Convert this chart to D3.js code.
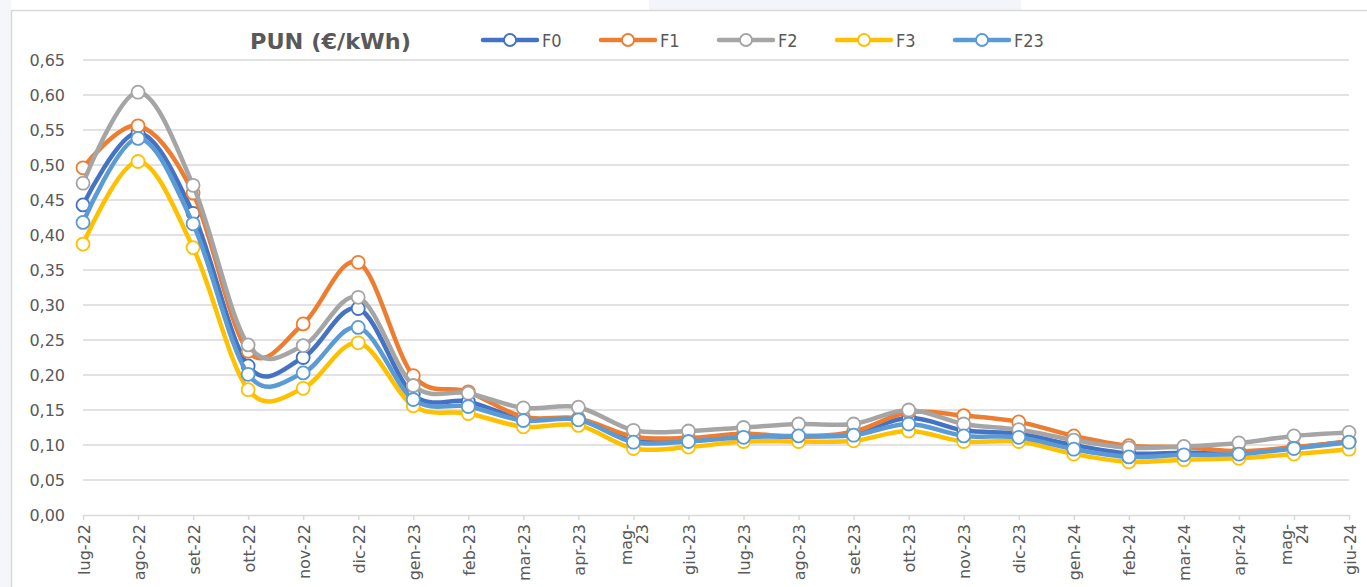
<!DOCTYPE html>
<html>
<head>
<meta charset="utf-8">
<script src="https://cdn.jsdelivr.net/npm/d3@7"></script>
<style>
  body { margin: 0; background: #ffffff; }
  svg { display: block; }
</style>
</head>
<body>
<div id="chart"></div>
<script>
var width = 1367,
  height = 587;

// months on the x axis
const months = [
  "lug-22", "ago-22", "set-22", "ott-22", "nov-22", "dic-22",
  "gen-23", "feb-23", "mar-23", "apr-23", "mag-23", "giu-23",
  "lug-23", "ago-23", "set-23", "ott-23", "nov-23", "dic-23",
  "gen-24", "feb-24", "mar-24", "apr-24", "mag-24", "giu-24",
];
// values (€/kWh)
const F0 = [0.443, 0.546, 0.431, 0.213, 0.225, 0.295, 0.172, 0.162, 0.137, 0.137, 0.107, 0.107,
  0.113, 0.112, 0.116, 0.139, 0.121, 0.116, 0.100, 0.088, 0.089, 0.089, 0.096, 0.105];
const F1 = [0.496, 0.556, 0.460, 0.234, 0.273, 0.361, 0.199, 0.176, 0.140, 0.138, 0.112, 0.110,
  0.116, 0.112, 0.119, 0.147, 0.142, 0.133, 0.113, 0.099, 0.097, 0.091, 0.097, 0.105];
const F2 = [0.474, 0.604, 0.471, 0.243, 0.242, 0.311, 0.185, 0.174, 0.153, 0.154, 0.121, 0.120,
  0.125, 0.130, 0.130, 0.150, 0.130, 0.122, 0.107, 0.096, 0.098, 0.103, 0.113, 0.118];
const F3 = [0.387, 0.505, 0.382, 0.179, 0.181, 0.246, 0.156, 0.145, 0.126, 0.128, 0.095, 0.097,
  0.105, 0.105, 0.106, 0.120, 0.105, 0.105, 0.087, 0.076, 0.079, 0.081, 0.087, 0.094];
const F23 = [0.418, 0.538, 0.416, 0.201, 0.203, 0.268, 0.165, 0.155, 0.135, 0.136, 0.104, 0.105,
  0.111, 0.113, 0.114, 0.130, 0.113, 0.111, 0.094, 0.083, 0.086, 0.087, 0.095, 0.104];
const seriesNames = ["F0", "F1", "F2", "F3", "F23"];
const seriesValues = [F0, F1, F2, F3, F23];
const colors = ["#4472C4", "#ED7D31", "#A5A5A5", "#FFC000", "#5B9BD5"];
const yTicks = [0, 0.05, 0.1, 0.15, 0.2, 0.25, 0.3, 0.35, 0.4, 0.45, 0.5, 0.55, 0.6, 0.65];

var locale = d3.formatLocale({ decimal: ",", thousands: ".", grouping: [3], currency: ["€", ""] });
var fmt = locale.format(".2f");

var svg = d3.select("#chart").append("svg")
  .attr("width", width)
  .attr("height", height);

// page background bits and the chart frame
svg.append("rect").attr("x", 0).attr("y", 0).attr("width", 11).attr("height", height).attr("fill", "#f5f6fa");
svg.append("rect").attr("x", 649).attr("y", 0).attr("width", 372).attr("height", 10).attr("fill", "#f3f5fa");
svg.append("rect")
  .attr("x", 11.5).attr("y", 10.5)
  .attr("width", width + 20).attr("height", height + 20)
  .attr("fill", "#ffffff")
  .attr("stroke", "#d9d9d9")
  .attr("stroke-width", 1.5);

var x = d3.scalePoint().domain(months).range([83, 1349]);
var y = d3.scaleLinear().domain([0, 0.65]).range([515, 60]);

// gridlines
svg.append("g")
  .selectAll("line")
  .data(yTicks.slice(1))
  .enter()
  .append("line")
  .attr("x1", x(months[0]))
  .attr("x2", x(months[months.length - 1]))
  .attr("y1", (d) => y(d))
  .attr("y2", (d) => y(d))
  .attr("stroke", "#d9d9d9")
  .attr("stroke-width", 1.5);

// y axis labels
var yAxis = svg.append("g")
  .attr("transform", "translate(" + x(months[0]) + ",0)")
  .call(d3.axisLeft(y).tickValues(yTicks).tickFormat(fmt).tickSize(0).tickPadding(18));
yAxis.select(".domain").remove();
yAxis.selectAll("text")
  .attr("fill", "#595959")
  .style("font-family", "DejaVu Sans")
  .style("font-size", "16px");

// x axis
var xAxis = svg.append("g")
  .attr("transform", "translate(0," + y(0) + ")")
  .call(d3.axisBottom(x).tickSize(5).tickSizeOuter(0));
xAxis.select(".domain").attr("stroke", "#d9d9d9").attr("stroke-width", 1.5);
xAxis.selectAll(".tick line").attr("stroke", "#d9d9d9").attr("stroke-width", 1.5);
xAxis.selectAll(".tick text").remove();
xAxis.selectAll(".tick").each(function (d) {
  var t = d3.select(this).append("text")
    .attr("transform", "rotate(-90)")
    .attr("text-anchor", "end")
    .attr("fill", "#595959")
    .style("font-family", "DejaVu Sans")
    .style("font-size", "16px");
  if (d.indexOf("mag") === 0) {
    var parts = d.split("-");
    t.append("tspan").attr("x", -9).attr("y", -2).text(parts[0] + "-");
    t.append("tspan").attr("x", -9).attr("y", 14).text(parts[1]);
  } else {
    t.attr("x", -9).attr("y", 6).text(d);
  }
});

// series lines with markers
var line = d3.line()
  .x((d, i) => x(months[i]))
  .y((d) => y(d))
  .curve(d3.curveCardinal.tension(0));

for (var s = 0; s < seriesValues.length; s++) {
  var g = svg.append("g");
  g.append("path")
    .attr("d", line(seriesValues[s]))
    .attr("fill", "none")
    .attr("stroke", colors[s])
    .attr("stroke-width", 4.5)
    .attr("stroke-linejoin", "round");
  g.selectAll("circle")
    .data(seriesValues[s])
    .enter()
    .append("circle")
    .attr("cx", (d, i) => x(months[i]))
    .attr("cy", (d) => y(d))
    .attr("r", 6.5)
    .attr("fill", "#ffffff")
    .attr("stroke", colors[s])
    .attr("stroke-width", 1.8);
}

// title
svg.append("text")
  .attr("x", 250)
  .attr("y", 49)
  .attr("textLength", 161)
  .attr("lengthAdjust", "spacingAndGlyphs")
  .attr("fill", "#595959")
  .style("font-family", "DejaVu Sans")
  .style("font-weight", "bold")
  .style("font-size", "22px")
  .text("PUN (€/kWh)");

// legend
var legend = svg.append("g");
for (var k = 0; k < seriesNames.length; k++) {
  var lx = 483 + 118 * k;
  legend.append("line")
    .attr("x1", lx).attr("x2", lx + 54)
    .attr("y1", 40).attr("y2", 40)
    .attr("stroke", colors[k])
    .attr("stroke-width", 4.5)
    .attr("stroke-linecap", "round");
  legend.append("circle")
    .attr("cx", lx + 27).attr("cy", 40).attr("r", 6)
    .attr("fill", "#ffffff")
    .attr("stroke", colors[k])
    .attr("stroke-width", 1.8);
  legend.append("text")
    .attr("x", lx + 59)
    .attr("y", 47)
    .attr("fill", "#595959")
    .style("font-family", "DejaVu Sans Condensed, DejaVu Sans")
    .style("font-stretch", "condensed")
    .style("font-size", "18px")
    .text(seriesNames[k]);
}
</script>
</body>
</html>
